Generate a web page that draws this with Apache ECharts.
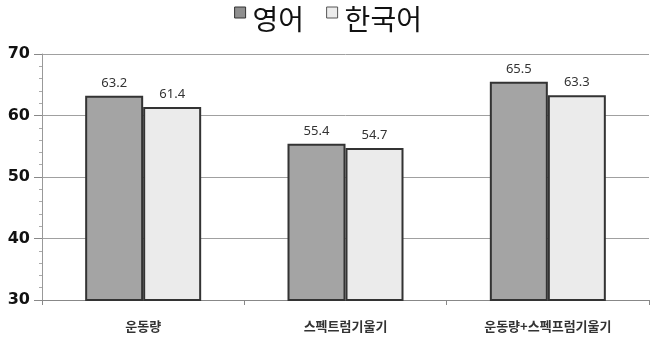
<!DOCTYPE html>
<html><head><meta charset="utf-8">
<script src="https://cdn.jsdelivr.net/npm/echarts@6/dist/echarts.min.js"></script>
<style>html,body{margin:0;padding:0;background:#fff}#c{width:656px;height:352px}</style>
</head><body><div id="c"></div>
<script>
const categories = ['운동량', '스펙트럼기울기', '운동량+스펙프럼기울기'];
const seriesNames = ['영어', '한국어'];
const english = [63.2, 55.4, 65.5];
const korean = [61.4, 54.7, 63.3];
const yTicks = [30, 40, 50, 60, 70];

const chart = echarts.init(document.getElementById('c'));
const font = '"Noto Sans CJK KR", "Noto Sans", sans-serif';
chart.setOption({
  animation: false,
  textStyle: { fontFamily: font },
  legend: {
    top: 0, left: 'center', itemWidth: 11, itemHeight: 24, itemGap: 22,
    textStyle: { fontSize: 28, color: '#111', fontFamily: font, padding: [0, 0, 0, 2] },
    data: [
      { name: seriesNames[0], icon: 'path://M0,0H11V11H0Z M0,24L0.01,24', itemStyle: { color: '#8f8f8f', borderColor: '#333', borderWidth: 1 } },
      { name: seriesNames[1], icon: 'path://M0,0H11V11H0Z M0,24L0.01,24', itemStyle: { color: '#ececec', borderColor: '#555', borderWidth: 1 } }
    ]
  },
  grid: { left: 42, right: 7, top: 54, bottom: 52 },
  xAxis: {
    type: 'category', data: categories,
    axisLine: { lineStyle: { color: '#888' } },
    axisTick: { show: true, alignWithLabel: false, lineStyle: { color: '#888' } },
    axisLabel: { fontSize: 13, fontWeight: 'bold', color: '#333', margin: 20, fontFamily: font }
  },
  yAxis: {
    type: 'value', min: yTicks[0], max: yTicks[yTicks.length - 1], interval: 10,
    axisLine: { show: true, lineStyle: { color: '#999' } },
    axisTick: { show: true, length: 8, lineStyle: { color: '#888' } },
    minorTick: { show: true, splitNumber: 5, length: 3, lineStyle: { color: '#aaa' } },
    splitLine: { lineStyle: { color: '#a0a0a0', width: 1 } },
    axisLabel: { fontSize: 16, fontWeight: 'bold', color: '#111', margin: 12, fontFamily: 'DejaVu Sans' }
  },
  series: [
    {
      name: seriesNames[0], type: 'bar', data: english, barWidth: 58, barGap: '0%',
      itemStyle: { color: '#a4a4a4', borderColor: '#333', borderWidth: 2 },
      label: { show: true, position: 'top', distance: 6, fontSize: 13, color: '#333', fontFamily: 'Noto Sans' }
    },
    {
      name: seriesNames[1], type: 'bar', data: korean, barWidth: 58,
      itemStyle: { color: '#ebebeb', borderColor: '#333', borderWidth: 2 },
      label: { show: true, position: 'top', distance: 6, fontSize: 13, color: '#333', fontFamily: 'Noto Sans' }
    }
  ]
});
</script></body></html>
